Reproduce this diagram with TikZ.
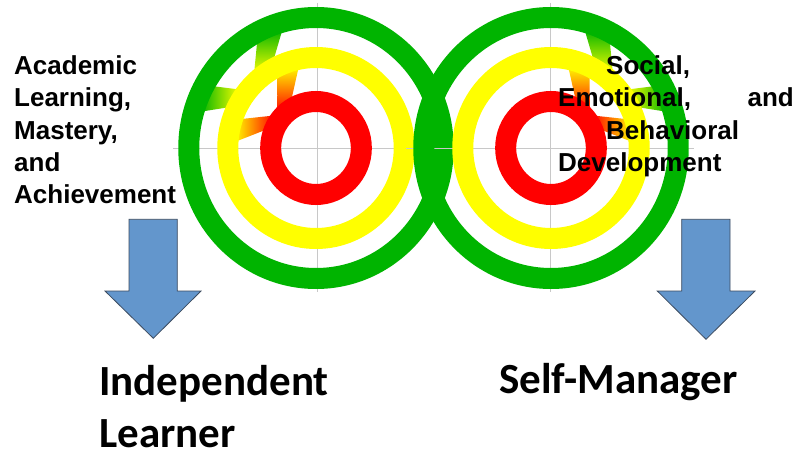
\documentclass[tikz,border=0pt]{standalone}
\usepackage{fontspec}
\setmainfont{Liberation Sans}
\newfontfamily\headfont{Carlito}
\definecolor{ringgreen}{RGB}{0,180,0}
\definecolor{ringyellow}{RGB}{255,255,0}
\definecolor{ringred}{RGB}{255,0,0}
\definecolor{axisgray}{RGB}{200,200,200}
\definecolor{arrowfill}{RGB}{99,150,204}
\definecolor{arrowedge}{RGB}{60,75,95}
% quadrilateral band between two rings: style, outer radius, two outer angles,
% inner radius, two inner angles
\newcommand\bridgeband[7]{\shade[#1] (#3:#2) -- (#4:#2) -- (#7:#5) -- (#6:#5) -- cycle;}
\begin{document}
\begin{tikzpicture}[x=1pt,y=-1pt,
  axisline/.style={draw=axisgray,line width=0.8pt},
  ringline/.style={line width=21pt},
  smalltext/.style={inner sep=0pt,anchor=base west,font=\fontsize{26}{32}\selectfont\bfseries},
  bigtext/.style={inner sep=0pt,anchor=base west,font=\headfont\fontsize{43}{52}\selectfont\bfseries},
  downarrow/.style={fill=arrowfill,draw=arrowedge,line width=0.8pt,line join=miter}]
\useasboundingbox (0,0) rectangle (798,452);
\fill[white] (0,0) rectangle (798,452);

% ---- left target ----
\draw[axisline] (317,3) -- (317,292);
\draw[axisline] (173,148) -- (461,148);
\begin{scope}[shift={(316,148)},xscale=0.975]
  \bridgeband{top color=ringgreen,bottom color=ringyellow}{124}{-106}{-119}{97}{-117}{-131}
  \bridgeband{left color=ringgreen,right color=ringyellow}{124}{-150}{-163}{97}{-143}{-155}
  \bridgeband{top color=ringyellow,bottom color=ringred}{84}{-102}{-118}{53}{-119}{-139}
  \bridgeband{left color=ringyellow,right color=ringred}{84}{-160}{-176}{53}{-142}{-159}
  \draw[ringline,ringgreen] (0,0) circle[radius=130.5];
  \draw[ringline,ringyellow] (0,0) circle[radius=90.5];
  \draw[ringline,ringred] (0,0) circle[radius=46.5];
\end{scope}

% ---- right target ----
\draw[axisline] (550,3) -- (550,292);
\draw[axisline] (406,148) -- (694,148);
\begin{scope}[shift={(551,148)},xscale=0.975]
  \bridgeband{top color=ringgreen,bottom color=ringyellow}{124}{-74}{-61}{97}{-63}{-49}
  \bridgeband{left color=ringyellow,right color=ringgreen}{124}{-30}{-17}{97}{-37}{-25}
  \bridgeband{top color=ringyellow,bottom color=ringred}{84}{-78}{-62}{53}{-61}{-41}
  \bridgeband{left color=ringred,right color=ringyellow}{84}{-20}{-4}{53}{-38}{-21}
  \draw[ringline,ringgreen] (0,0) circle[radius=130.5];
  \draw[ringline,ringyellow] (0,0) circle[radius=90.5];
  \draw[ringline,ringred] (0,0) circle[radius=46.5];
\end{scope}

% ---- labels ----
\node[smalltext] (acad1) at (14,74.5) {Academic};
\node[smalltext] (acad2) at (14,106.75) {Learning,};
\node[smalltext] (acad3) at (14,139) {Mastery,};
\node[smalltext] (acad4) at (14,171.25) {and};
\node[smalltext] (acad5) at (14,203.5) {Achievement};

\node[smalltext] (soc1) at (606,74.5) {Social,};
\node[smalltext] (soc2) at (558,106.75) {Emotional,};
\node[smalltext,anchor=base east] (soc3) at (794,106.75) {and};
\node[smalltext] (soc4) at (606,139) {Behavioral};
\node[smalltext] (soc5) at (558,171.25) {Development};

% ---- block arrows ----
\draw[downarrow] (129,219.3) -- (177.3,219.3) -- (177.3,291) -- (201,291)
  -- (153.3,338.3) -- (105,291) -- (129,291) -- cycle;
\draw[downarrow] (681.7,219.3) -- (730,219.3) -- (730,291) -- (755,291)
  -- (706,339.3) -- (657.3,291) -- (681.7,291) -- cycle;

% ---- outcomes ----
\node[bigtext] (indep1) at (99,395.5) {Independent};
\node[bigtext] (indep2) at (99,447.5) {Learner};
\node[bigtext] (selfm) at (499,393.3) {Self-Manager};
\end{tikzpicture}
\end{document}
